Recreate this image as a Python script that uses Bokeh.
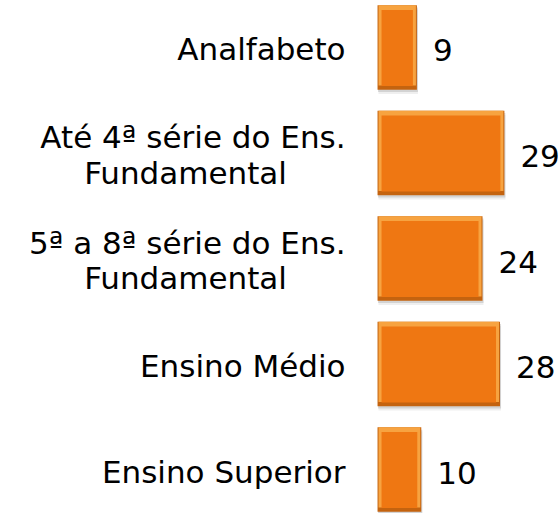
from bokeh.plotting import figure
from bokeh.models import FactorRange, Range1d, ColumnDataSource
from bokeh.transform import dodge
from bokeh.embed import file_html
from bokeh.resources import INLINE
from bokeh.core.properties import value

# ---- data ----
categories = [
    "Analfabeto",
    "Até 4ª série do Ens.\nFundamental",
    "5ª a 8ª série do Ens.\nFundamental",
    "Ensino Médio",
    "Ensino Superior",
]
values = [9, 29, 24, 28, 10]
value_labels = [str(v) for v in values]

# ---- styling helpers (pixel insets converted to data units) ----
PX = 1 / 4.372  # data units per pixel along x

src = ColumnDataSource(dict(
    cat=categories,
    val=values,
    lab=value_labels,
    val_sh=[v + 1 * PX for v in values],
    val_l=[v - 1 * PX for v in values],
    val_i=[v - 4 * PX for v in values],
))

single = [c for c in categories if "\n" not in c]
multi = [c for c in categories if "\n" in c]
src_single = ColumnDataSource(dict(cat=single))
src_multi = ColumnDataSource(dict(
    cat=multi,
    line1=[c.split("\n")[0] for c in multi],
    line2=[c.split("\n")[1] for c in multi],
))

p = figure(
    width=559, height=513,
    x_range=Range1d(-86.2, 41.6),
    y_range=FactorRange(factors=categories[::-1], range_padding=-0.083,
                        range_padding_units="absolute"),
    x_axis_location=None, y_axis_location=None,
    output_backend="svg", toolbar_location=None,
    min_border_left=0, min_border_right=0, min_border_top=3, min_border_bottom=0,
)
p.outline_line_color = None
p.xgrid.visible = False
p.ygrid.visible = False
p.background_fill_color = "white"
p.border_fill_color = "white"

# soft shadow
p.hbar(y=dodge("cat", -0.04, range=p.y_range), left=1 * PX, right="val_sh", height=0.8,
       source=src, fill_color="#7f7f7f", fill_alpha=0.12, line_color=None)
p.hbar(y=dodge("cat", -0.022, range=p.y_range), left=0.5 * PX, right="val_sh", height=0.8,
       source=src, fill_color="#7f7f7f", fill_alpha=0.25, line_color=None)
# dark bevel frame
p.hbar(y="cat", left=0, right="val", height=0.8, source=src,
       fill_color="#C4630F", line_color=None)
# light top bevel
p.hbar(y=dodge("cat", 0.02, range=p.y_range), left=1 * PX, right="val_l", height=0.76,
       source=src, fill_color="#F7A340", line_color=None)
# main face
p.hbar(y=dodge("cat", -0.005, range=p.y_range), left=4 * PX, right="val_i", height=0.72,
       source=src, fill_color="#EF7712", line_color=None)

font = value("DejaVu Sans")
common = dict(text_baseline="middle", text_font=font, text_font_size="31px",
              text_color="#000000")
# category labels: single-line right aligned
p.text(x=0, y="cat", text="cat", source=src_single, x_offset=-32, y_offset=2,
       text_align="right", **common)
# two-line labels: first line right aligned, second line centred
p.text(x=0, y=dodge("cat", 0.166, range=p.y_range), text="line1", source=src_multi,
       x_offset=-32, y_offset=2, text_align="right", **common)
p.text(x=0, y=dodge("cat", -0.166, range=p.y_range), text="line2", source=src_multi,
       x_offset=-192, y_offset=2, text_align="center", **common)

# value labels
p.text(x="val", y="cat", text="lab", source=src, x_offset=16, y_offset=3,
       text_align="left", **common)

open("out.html", "w").write(file_html(p, INLINE))
